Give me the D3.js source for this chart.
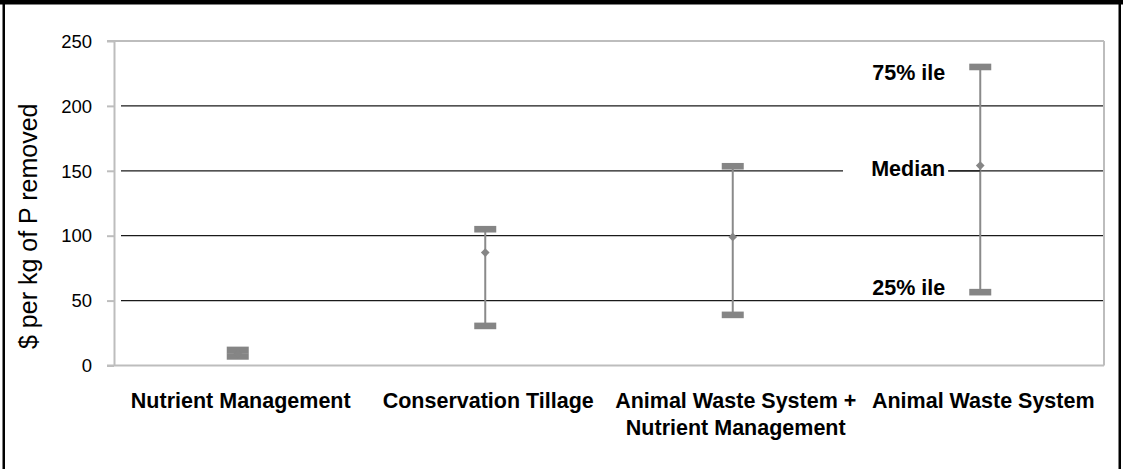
<!DOCTYPE html>
<html>
<head>
<meta charset="utf-8">
<script src="https://cdn.jsdelivr.net/npm/d3@7"></script>
<style>
  html, body { margin: 0; padding: 0; background: #fff; }
  svg { display: block; font-family: "Liberation Sans", Arial, sans-serif; }
</style>
</head>
<body>
<svg id="chart" width="1123" height="469"></svg>
<script>
// ---- data ----
const categories = ["Nutrient Management", "Conservation Tillage", "Animal Waste System + Nutrient Management", "Animal Waste System"];
const categoryLines = [["Nutrient Management"], ["Conservation Tillage"], ["Animal Waste System +", "Nutrient Management"], ["Animal Waste System"]];
const q1Values = [7, 30.5, 39, 56.5];
const medianValues = [9, 87, 99, 154];
const q3Values = [12, 105, 153.5, 230];
const yTicks = [0, 50, 100, 150, 200, 250];
const yTitle = "$ per kg of P removed";
const annoLabels = ["75% ile", "Median", "25% ile"];
const annoValues = [230, 154, 56.5];

// ---- layout ----
const W = 1123, H = 469;
const plot = { left: 114, right: 1104, top: 41, bottom: 365.5 };
const svg = d3.select("#chart");

const x = d3.scaleBand().domain(categories).range([plot.left, plot.right]);
const y = d3.scaleLinear().domain([0, 250]).range([plot.bottom, plot.top]);

// outer frame
svg.append("rect").attr("x", 0).attr("y", 0).attr("width", W).attr("height", 4.5).attr("fill", "#000");
svg.append("rect").attr("x", 2.5).attr("y", 0).attr("width", 2.5).attr("height", H).attr("fill", "#000");
svg.append("rect").attr("x", 1118.5).attr("y", 0).attr("width", 2.5).attr("height", H).attr("fill", "#000");

// gridlines
const gridVals = yTicks.filter(v => v > 0 && v < 250);
svg.append("g").selectAll("line").data(gridVals).join("line")
  .attr("x1", plot.left + 7).attr("x2", plot.right - 1)
  .attr("y1", d => y(d)).attr("y2", d => y(d))
  .attr("stroke", "#1a1a1a").attr("stroke-width", 1.3);

// plot border (gray)
const gray = "#bdbdbd";
svg.append("line").attr("x1", plot.left - 7).attr("x2", plot.right).attr("y1", y(250)).attr("y2", y(250)).attr("stroke", gray).attr("stroke-width", 2);
svg.append("line").attr("x1", plot.left - 7).attr("x2", plot.right).attr("y1", y(0)).attr("y2", y(0)).attr("stroke", gray).attr("stroke-width", 2);
svg.append("line").attr("x1", plot.right).attr("x2", plot.right).attr("y1", y(250)).attr("y2", y(0)).attr("stroke", gray).attr("stroke-width", 2);

// y axis
const yAxis = d3.axisLeft(y).tickValues(yTicks).tickSize(7).tickPadding(15).tickSizeOuter(0);
const ga = svg.append("g").attr("transform", `translate(${plot.left},0)`).call(yAxis);
ga.select(".domain").attr("stroke", gray).attr("stroke-width", 2);
ga.selectAll(".tick line").attr("stroke", gray).attr("stroke-width", 2);
ga.selectAll(".tick text").attr("font-size", 18.5).attr("fill", "#000")
  .attr("font-family", "Liberation Sans, Arial, sans-serif").attr("dy", "0.34em");

// y title
svg.append("text")
  .attr("transform", `translate(37,${(plot.top + plot.bottom) / 2 + 23}) rotate(-90)`)
  .attr("text-anchor", "middle")
  .attr("font-size", 25)
  .attr("fill", "#000")
  .text(yTitle);

// category labels
const cat = svg.append("g");
categories.forEach((c, i) => {
  const t = cat.append("text")
    .attr("x", x(c) + x.bandwidth() / 2 + 3)
    .attr("y", 408)
    .attr("text-anchor", "middle")
    .attr("font-size", 21.5)
    .attr("font-weight", "bold")
    .attr("fill", "#000");
  categoryLines[i].forEach((ln, j) => {
    t.append("tspan").attr("x", x(c) + x.bandwidth() / 2 + 3).attr("dy", j === 0 ? 0 : 27).text(ln);
  });
});

// whiskers
const markColor = "#858585";
const cx = c => x(c) + x.bandwidth() / 2;
const g = svg.append("g");
categories.forEach((c, i) => {
  g.append("line")
    .attr("x1", cx(c)).attr("x2", cx(c))
    .attr("y1", y(q3Values[i])).attr("y2", y(q1Values[i]))
    .attr("stroke", "#8a8a8a").attr("stroke-width", 2);
  [q1Values[i], q3Values[i]].forEach(v => {
    g.append("rect")
      .attr("x", cx(c) - 11).attr("y", y(v) - 3.3)
      .attr("width", 22).attr("height", 6.6)
      .attr("fill", markColor);
  });
  g.append("path")
    .attr("d", d3.symbol(d3.symbolSquare, 38)())
    .attr("transform", `translate(${cx(c)},${y(medianValues[i])}) rotate(45)`)
    .attr("fill", markColor);
});

// annotations for the last series
const annoDy = [13, 10, 3];
const ax = cx(categories[3]) - 35;
annoLabels.forEach((lab, i) => {
  if (lab === "Median") {
    svg.append("rect")
      .attr("x", 843).attr("y", y(annoValues[i]) - 12)
      .attr("width", ax + 3 - 843).attr("height", 24)
      .attr("fill", "#fff");
  }
  svg.append("text")
    .attr("x", ax)
    .attr("y", y(annoValues[i]) + annoDy[i])
    .attr("text-anchor", "end")
    .attr("font-size", 21.5)
    .attr("font-weight", "bold")
    .attr("fill", "#000")
    .text(lab);
});
// median connector segment
svg.append("line")
  .attr("x1", ax + 3).attr("x2", cx(categories[3]))
  .attr("y1", y(150)).attr("y2", y(150))
  .attr("stroke", "#1a1a1a").attr("stroke-width", 1.3);
</script>
</body>
</html>
